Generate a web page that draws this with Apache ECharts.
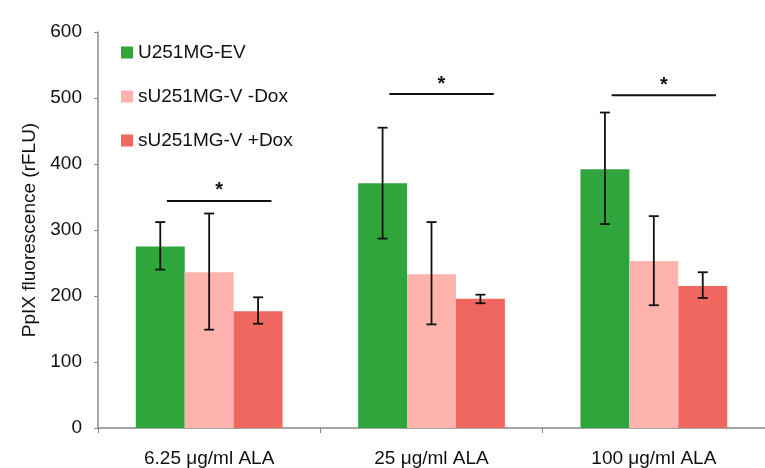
<!DOCTYPE html>
<html>
<head>
<meta charset="utf-8">
<script src="https://cdn.jsdelivr.net/npm/echarts@6/dist/echarts.min.js"></script>
<style>html,body{margin:0;padding:0;background:#fff}#c{width:765px;height:468px}</style>
</head>
<body>
<div id="c"></div>
<script>
var categories = ['6.25 μg/ml ALA', '25 μg/ml ALA', '100 μg/ml ALA'];
var seriesNames = ['U251MG-EV', 'sU251MG-V -Dox', 'sU251MG-V +Dox'];
var evValues = [275, 371, 392];
var evLow = [240, 287, 309];
var evHigh = [312, 455, 478];
var minusDoxValues = [236, 233, 253];
var minusDoxLow = [149, 157, 186];
var minusDoxHigh = [325, 312, 321];
var plusDoxValues = [177, 196, 215];
var plusDoxLow = [158, 189, 197];
var plusDoxHigh = [198, 202, 236];
var sigLevels = [344, 506, 504];
var yTicks = [0, 100, 200, 300, 400, 500, 600];

var colors = ['#2ea63c', '#ffb3ad', '#f0675f'];
var catGap = 0.34;
var FONT = 'Liberation Sans';

var values = [evValues, minusDoxValues, plusDoxValues];
var lows = [evLow, minusDoxLow, plusDoxLow];
var highs = [evHigh, minusDoxHigh, plusDoxHigh];

var series = [];
for (var s = 0; s < 3; s++) {
  series.push({
    name: seriesNames[s], type: 'bar', data: values[s],
    itemStyle: { color: colors[s] },
    barGap: '0%', barCategoryGap: (catGap * 100) + '%',
    z: 2
  });
}
for (var s2 = 0; s2 < 3; s2++) {
  (function (idx) {
    var d = [];
    for (var i = 0; i < categories.length; i++) d.push([i, lows[idx][i], highs[idx][i]]);
    series.push({
      type: 'custom', data: d, z: 5,
      renderItem: function (params, api) {
        var c = api.value(0);
        var band = api.size([1, 0])[0];
        var bw = band * (1 - catGap) / 3;
        var off = (idx - 1) * bw;
        var lo = api.coord([c, api.value(1)]);
        var hi = api.coord([c, api.value(2)]);
        var x = lo[0] + off;
        var cap = 5;
        var st = { stroke: '#111', lineWidth: 1.8 };
        return { type: 'group', children: [
          { type: 'line', shape: { x1: x, y1: lo[1], x2: x, y2: hi[1] }, style: st },
          { type: 'line', shape: { x1: x - cap, y1: lo[1], x2: x + cap, y2: lo[1] }, style: st },
          { type: 'line', shape: { x1: x - cap, y1: hi[1], x2: x + cap, y2: hi[1] }, style: st }
        ]};
      }
    });
  })(s2);
}
var sigData = sigLevels.map(function (v, i) { return [i, v]; });
series.push({
  type: 'custom', data: sigData, z: 6,
  renderItem: function (params, api) {
    var p = api.coord([api.value(0), api.value(1)]);
    var band = api.size([1, 0])[0];
    var x1 = p[0] - band * 0.19, x2 = p[0] + band * 0.28;
    var mid = (x1 + x2) / 2;
    return { type: 'group', children: [
      { type: 'line', shape: { x1: x1, y1: p[1], x2: x2, y2: p[1] }, style: { stroke: '#111', lineWidth: 2 } },
      { type: 'text', style: { text: '*', x: mid, y: p[1] - 10, align: 'center', verticalAlign: 'middle', font: 'bold 20px ' + FONT, fill: '#111' } }
    ]};
  }
});

var chart = echarts.init(document.getElementById('c'));
chart.setOption({
  animation: false,
  textStyle: { fontFamily: FONT },
  grid: { left: 98, right: 0, top: 32, bottom: 37, containLabel: false },
  legend: {
    data: seriesNames, orient: 'vertical', left: 116, top: 38,
    itemWidth: 12, itemHeight: 12, itemGap: 25, icon: 'rect',
    textStyle: { fontSize: 19, color: '#111', fontFamily: FONT }
  },
  xAxis: {
    type: 'category', data: categories,
    axisLine: { lineStyle: { color: '#888', width: 1.5 } },
    axisTick: { show: true, length: 5, lineStyle: { color: '#888' } },
    axisLabel: { fontSize: 19, color: '#111', margin: 21, fontFamily: FONT }
  },
  yAxis: {
    type: 'value', min: yTicks[0], max: yTicks[yTicks.length - 1], interval: 100,
    name: 'PpIX fluorescence (rFLU)', nameLocation: 'middle', nameGap: 59,
    nameTextStyle: { fontSize: 19, color: '#111', fontFamily: FONT },
    axisLine: { show: true, lineStyle: { color: '#888', width: 1.5 } },
    axisTick: { show: true, length: 4, lineStyle: { color: '#888' } },
    splitLine: { show: false },
    axisLabel: { fontSize: 19, color: '#111', margin: 16, fontFamily: FONT }
  },
  series: series
});
</script>
</body>
</html>
